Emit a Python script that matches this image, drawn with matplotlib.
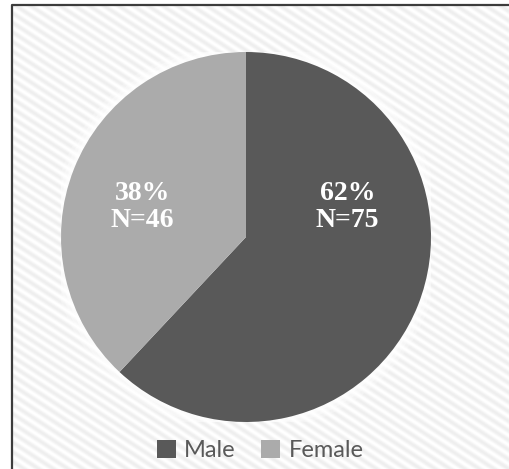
import numpy as np
import matplotlib.pyplot as plt

labels = ['Male', 'Female']
counts = [75, 46]
colors = ['#595959', '#ababab']

W, H = 510, 469
fig = plt.figure(figsize=(W / 100, H / 100), dpi=100)

# striped backdrop inside the chart frame
bg = fig.add_axes([0, 0, 1, 1])
yy, xx = np.mgrid[0:H, 0:W]
ang = np.deg2rad(33)
d = xx * np.sin(ang) - yy * np.cos(ang)
stripes = 0.965 + 0.033 * np.cos(2 * np.pi * d / 8.0)
left, top = 12, 5
stripes[:top, :] = 1.0
stripes[:, :left] = 1.0
bg.imshow(stripes, cmap='gray', vmin=0, vmax=1, extent=[0, W, H, 0], interpolation='bilinear')
bg.plot([left, left, W], [H, top, top], color='#3c3c3c', lw=1.6)
bg.set_xlim(0, W)
bg.set_ylim(H, 0)
bg.axis('off')

# pie
cx, cy, r = 246, 237, 185
ax = fig.add_axes([(cx - r) / W, (H - cy - r) / H, 2 * r / W, 2 * r / H])
for k, a in zip([1.06, 1.04, 1.02], [0.25, 0.35, 0.5]):
    ax.add_patch(plt.Circle((0, 0), k, color='white', alpha=a, lw=0))
wedges, _ = ax.pie(counts, colors=colors, startangle=90, counterclock=False,
                   radius=1, wedgeprops=dict(linewidth=0))
ax.set_xlim(-1, 1)
ax.set_ylim(-1, 1)
ax.set_aspect('equal')
ax.axis('off')

total = sum(counts)
label_x = [0.55, -0.56]
for n, x in zip(counts, label_x):
    pct = round(100 * n / total)
    ax.text(x, 0.16, f'{pct}%\nN={n}', color='white', fontsize=20,
            fontweight='bold', family='Liberation Serif', ha='center', va='center',
            linespacing=1.1)

fig.legend(wedges, labels, loc='center', bbox_to_anchor=(0.51, 0.04), ncol=2,
           frameon=False, handlelength=0.8, handleheight=0.8, handletextpad=0.35,
           columnspacing=1.1, prop=dict(family='Lato', size=17), labelcolor='#595959')

fig.savefig('out.png', dpi=100)
